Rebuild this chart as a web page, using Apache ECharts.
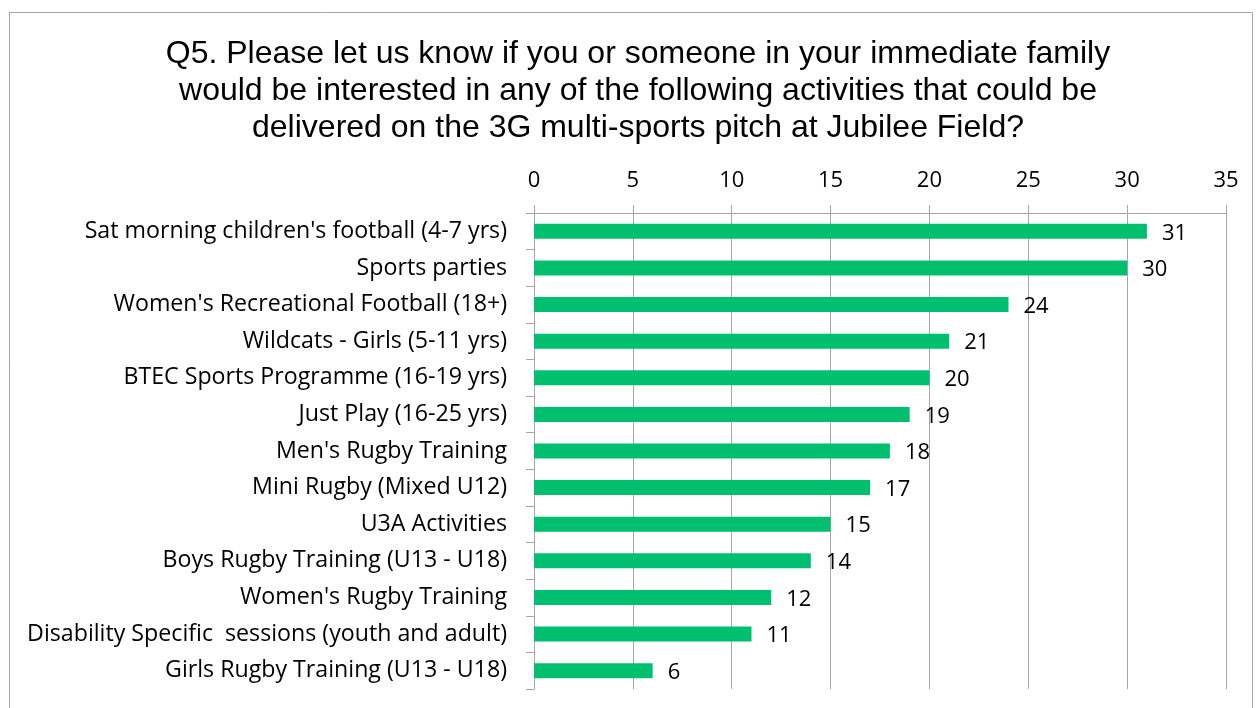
<!DOCTYPE html>
<html><head><meta charset="utf-8">
<script src="https://cdn.jsdelivr.net/npm/echarts@6/dist/echarts.min.js"></script>
<style>html,body{margin:0;padding:0;background:#fff}#c{width:1257px;height:708px}</style>
</head><body><div id="c"></div>
<script>
const titleLines = [
  "Q5. Please let us know if you or someone in your immediate family",
  "would be interested in any of the following activities that could be",
  "delivered on the 3G multi-sports pitch at Jubilee Field?"
];
const categories = [
  "Sat morning children's football (4-7 yrs)",
  "Sports parties",
  "Women's Recreational Football (18+)",
  "Wildcats - Girls (5-11 yrs)",
  "BTEC Sports Programme (16-19 yrs)",
  "Just Play (16-25 yrs)",
  "Men's Rugby Training",
  "Mini Rugby (Mixed U12)",
  "U3A Activities",
  "Boys Rugby Training (U13 - U18)",
  "Women's Rugby Training",
  "Disability Specific  sessions (youth and adult)",
  "Girls Rugby Training (U13 - U18)"
];
const values = [31, 30, 24, 21, 20, 19, 18, 17, 15, 14, 12, 11, 6];
const axisMin = 0, axisMax = 35, axisStep = 5;

const chart = echarts.init(document.getElementById('c'), null, {renderer: 'canvas'});
const labelFont = '"Open Sans"';
chart.setOption({
  animation: false,
  backgroundColor: '#fff',
  graphic: [
    {type: 'rect', shape: {x: 9.5, y: 12.5, width: 1243, height: 720}, style: {fill: 'none', stroke: '#a6a6a6', lineWidth: 1}, silent: true},
    {type: 'text', x: 638, y: 36, style: {text: titleLines.join('\n'), font: '32px "Liberation Sans", Arial, sans-serif', fill: '#000', align: 'center', verticalAlign: 'top', lineHeight: 37}}
  ],
  grid: {left: 534, top: 213, right: 31, bottom: 19, containLabel: false},
  xAxis: {
    type: 'value', position: 'top', min: axisMin, max: axisMax, interval: axisStep,
    axisLine: {show: true, lineStyle: {color: '#a6a6a6', width: 1}},
    axisTick: {show: true, length: 8, lineStyle: {color: '#a6a6a6'}},
    splitLine: {show: true, lineStyle: {color: '#a6a6a6', width: 1}},
    axisLabel: {color: '#000', fontFamily: labelFont, fontSize: 22, margin: 21}
  },
  yAxis: {
    type: 'category', inverse: true, data: categories,
    axisLine: {show: true, lineStyle: {color: '#a6a6a6', width: 1}},
    axisTick: {show: true, length: 8, lineStyle: {color: '#a6a6a6'}},
    axisLabel: {color: '#000', fontFamily: labelFont, fontSize: 23.2, margin: 27, padding: [5, 0, 0, 0]}
  },
  series: [{
    type: 'bar', data: values, barWidth: 15,
    itemStyle: {color: '#00C06F'},
    label: {show: true, position: 'right', distance: 15, offset: [0, 2], color: '#000', fontFamily: labelFont, fontSize: 22}
  }]
});
</script></body></html>
